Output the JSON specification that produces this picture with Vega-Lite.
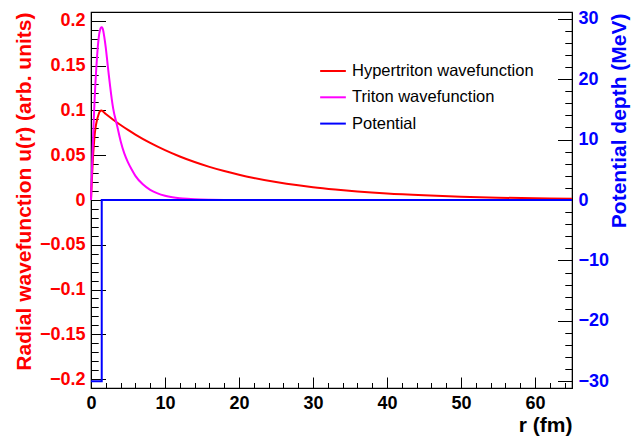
{
  "$schema": "https://vega.github.io/schema/vega-lite/v6.json",
  "width": 481,
  "height": 376,
  "autosize": {"type": "none"},
  "padding": {"left": 91, "top": 12, "right": 66, "bottom": 48},
  "background": "white",
  "config": {
    "view": {"stroke": "black", "strokeWidth": 1.2},
    "font": "Liberation Sans",
    "axis": {"grid": false, "domainColor": "black", "tickColor": "black", "labelFlush": false, "labelOverlap": false, "labelBound": false}
  },
  "datasets": {
    "wave": [
      {"r": 0, "u": 0, "series": "Hypertriton wavefunction"},
      {"r": 0.1, "u": 0.019, "series": "Hypertriton wavefunction"},
      {"r": 0.2, "u": 0.037, "series": "Hypertriton wavefunction"},
      {"r": 0.3, "u": 0.052, "series": "Hypertriton wavefunction"},
      {"r": 0.4, "u": 0.063, "series": "Hypertriton wavefunction"},
      {"r": 0.5, "u": 0.073, "series": "Hypertriton wavefunction"},
      {"r": 0.6, "u": 0.080, "series": "Hypertriton wavefunction"},
      {"r": 0.8, "u": 0.089, "series": "Hypertriton wavefunction"},
      {"r": 1.0, "u": 0.095, "series": "Hypertriton wavefunction"},
      {"r": 1.2, "u": 0.099, "series": "Hypertriton wavefunction"},
      {"r": 1.4, "u": 0.100, "series": "Hypertriton wavefunction"},
      {"r": 2, "u": 0.096, "series": "Hypertriton wavefunction"},
      {"r": 3, "u": 0.0897, "series": "Hypertriton wavefunction"},
      {"r": 4, "u": 0.0838, "series": "Hypertriton wavefunction"},
      {"r": 5, "u": 0.0783, "series": "Hypertriton wavefunction"},
      {"r": 6, "u": 0.0731, "series": "Hypertriton wavefunction"},
      {"r": 8, "u": 0.0638, "series": "Hypertriton wavefunction"},
      {"r": 10, "u": 0.0557, "series": "Hypertriton wavefunction"},
      {"r": 12, "u": 0.0486, "series": "Hypertriton wavefunction"},
      {"r": 14, "u": 0.0424, "series": "Hypertriton wavefunction"},
      {"r": 16, "u": 0.0370, "series": "Hypertriton wavefunction"},
      {"r": 18, "u": 0.0323, "series": "Hypertriton wavefunction"},
      {"r": 20, "u": 0.0282, "series": "Hypertriton wavefunction"},
      {"r": 22, "u": 0.0246, "series": "Hypertriton wavefunction"},
      {"r": 25, "u": 0.0201, "series": "Hypertriton wavefunction"},
      {"r": 28, "u": 0.0164, "series": "Hypertriton wavefunction"},
      {"r": 30, "u": 0.0143, "series": "Hypertriton wavefunction"},
      {"r": 33, "u": 0.0117, "series": "Hypertriton wavefunction"},
      {"r": 36, "u": 0.0095, "series": "Hypertriton wavefunction"},
      {"r": 40, "u": 0.0072, "series": "Hypertriton wavefunction"},
      {"r": 45, "u": 0.0052, "series": "Hypertriton wavefunction"},
      {"r": 50, "u": 0.0037, "series": "Hypertriton wavefunction"},
      {"r": 55, "u": 0.0026, "series": "Hypertriton wavefunction"},
      {"r": 60, "u": 0.0019, "series": "Hypertriton wavefunction"},
      {"r": 65, "u": 0.0013, "series": "Hypertriton wavefunction"},
      {"r": 0, "u": 0, "series": "Triton wavefunction"},
      {"r": 0.1, "u": 0.026, "series": "Triton wavefunction"},
      {"r": 0.2, "u": 0.051, "series": "Triton wavefunction"},
      {"r": 0.3, "u": 0.074, "series": "Triton wavefunction"},
      {"r": 0.4, "u": 0.095, "series": "Triton wavefunction"},
      {"r": 0.5, "u": 0.114, "series": "Triton wavefunction"},
      {"r": 0.6, "u": 0.131, "series": "Triton wavefunction"},
      {"r": 0.7, "u": 0.145, "series": "Triton wavefunction"},
      {"r": 0.8, "u": 0.158, "series": "Triton wavefunction"},
      {"r": 0.9, "u": 0.169, "series": "Triton wavefunction"},
      {"r": 1.0, "u": 0.178, "series": "Triton wavefunction"},
      {"r": 1.1, "u": 0.185, "series": "Triton wavefunction"},
      {"r": 1.2, "u": 0.189, "series": "Triton wavefunction"},
      {"r": 1.3, "u": 0.192, "series": "Triton wavefunction"},
      {"r": 1.4, "u": 0.193, "series": "Triton wavefunction"},
      {"r": 1.5, "u": 0.193, "series": "Triton wavefunction"},
      {"r": 1.6, "u": 0.191, "series": "Triton wavefunction"},
      {"r": 1.7, "u": 0.187, "series": "Triton wavefunction"},
      {"r": 1.8, "u": 0.182, "series": "Triton wavefunction"},
      {"r": 2.0, "u": 0.170, "series": "Triton wavefunction"},
      {"r": 2.2, "u": 0.155, "series": "Triton wavefunction"},
      {"r": 2.4, "u": 0.140, "series": "Triton wavefunction"},
      {"r": 2.6, "u": 0.126, "series": "Triton wavefunction"},
      {"r": 2.8, "u": 0.113, "series": "Triton wavefunction"},
      {"r": 3.0, "u": 0.102, "series": "Triton wavefunction"},
      {"r": 3.5, "u": 0.084, "series": "Triton wavefunction"},
      {"r": 4.0, "u": 0.066, "series": "Triton wavefunction"},
      {"r": 4.5, "u": 0.052, "series": "Triton wavefunction"},
      {"r": 5.0, "u": 0.042, "series": "Triton wavefunction"},
      {"r": 5.5, "u": 0.034, "series": "Triton wavefunction"},
      {"r": 6.0, "u": 0.027, "series": "Triton wavefunction"},
      {"r": 7.0, "u": 0.0175, "series": "Triton wavefunction"},
      {"r": 8.0, "u": 0.0114, "series": "Triton wavefunction"},
      {"r": 9.0, "u": 0.0074, "series": "Triton wavefunction"},
      {"r": 10, "u": 0.0048, "series": "Triton wavefunction"},
      {"r": 11, "u": 0.0031, "series": "Triton wavefunction"},
      {"r": 12, "u": 0.0020, "series": "Triton wavefunction"},
      {"r": 13, "u": 0.0013, "series": "Triton wavefunction"},
      {"r": 14, "u": 0.0008, "series": "Triton wavefunction"},
      {"r": 16, "u": 0.0003, "series": "Triton wavefunction"},
      {"r": 18, "u": 0.0001, "series": "Triton wavefunction"},
      {"r": 20, "u": 0, "series": "Triton wavefunction"},
      {"r": 65, "u": 0, "series": "Triton wavefunction"}
    ],
    "potential": [
      {"r": 0, "V": -30, "i": 0, "series": "Potential"},
      {"r": 1.45, "V": -30, "i": 1, "series": "Potential"},
      {"r": 1.45, "V": 0, "i": 2, "series": "Potential"},
      {"r": 65, "V": 0, "i": 3, "series": "Potential"}
    ]
  },
  "encoding": {
    "x": {
      "field": "r", "type": "quantitative",
      "scale": {"domain": [0, 65], "nice": false, "zero": false},
      "axis": {
        "values": [0,2,4,6,8,10,12,14,16,18,20,22,24,26,28,30,32,34,36,38,40,42,44,46,48,50,52,54,56,58,60,62,64],
        "format": "d",
        "labelExpr": "datum.value % 10 == 0 ? datum.label : ''",
        "tickSize": {"condition": {"test": "datum.value % 10 == 0", "value": -11}, "value": -5.5},
        "labelFont": "Liberation Sans", "labelFontWeight": "bold", "labelFontSize": 18, "labelColor": "black",
        "labelBaseline": "alphabetic", "labelPadding": 31.5,
        "title": "r (fm)", "titleFont": "Liberation Sans", "titleFontWeight": "bold", "titleFontSize": 21, "titleColor": "black",
        "titleX": 481, "titleY": 43, "titleAlign": "right", "titleBaseline": "alphabetic", "titleAngle": 0
      }
    },
    "color": {
      "field": "series", "type": "nominal",
      "scale": {"domain": ["Hypertriton wavefunction", "Triton wavefunction", "Potential"], "range": ["#ff0000", "#ff00ff", "#0000ff"]},
      "legend": {"orient": "none", "legendX": 228, "legendY": 45, "title": null, "direction": "vertical", "symbolType": "stroke", "symbolSize": 660, "symbolStrokeWidth": 2, "labelFont": "Liberation Sans", "labelFontSize": 16.5, "labelColor": "black", "labelOffset": 5, "labelLimit": 0, "rowPadding": 3.3, "padding": 0}
    }
  },
  "layer": [
    {
      "data": {"name": "wave"},
      "mark": {"type": "line", "strokeWidth": 2, "interpolate": "monotone"},
      "encoding": {
        "y": {
          "field": "u", "type": "quantitative",
          "scale": {"domain": [-0.21, 0.21], "nice": false, "zero": false},
          "axis": {
            "orient": "left",
            "values": [-0.2,-0.19,-0.18,-0.17,-0.16,-0.15,-0.14,-0.13,-0.12,-0.11,-0.1,-0.09,-0.08,-0.07,-0.06,-0.05,-0.04,-0.03,-0.02,-0.01,0,0.01,0.02,0.03,0.04,0.05,0.06,0.07,0.08,0.09,0.1,0.11,0.12,0.13,0.14,0.15,0.16,0.17,0.18,0.19,0.2],
            "format": ".2~f",
            "labelExpr": "abs(round(datum.value*100)) % 5 == 0 ? datum.label : ''",
            "tickSize": {"condition": {"test": "abs(round(datum.value*100)) % 5 == 0", "value": -14.5}, "value": -7.2},
            "labelFont": "Liberation Sans", "labelFontWeight": "bold", "labelFontSize": 18, "labelColor": "#ff0000",
            "labelPadding": 20.5,
            "title": "Radial wavefunction u(r) (arb. units)", "titleFont": "Liberation Sans", "titleFontWeight": "bold", "titleFontSize": 21, "titleColor": "#ff0000",
            "titleX": -60.7, "titleY": 0, "titleAngle": 270, "titleAlign": "right", "titleBaseline": "alphabetic"
          }
        }
      }
    },
    {
      "data": {"name": "potential"},
      "mark": {"type": "line", "strokeWidth": 2},
      "encoding": {
        "y": {
          "field": "V", "type": "quantitative",
          "scale": {"domain": [-31.1, 31.1], "nice": false, "zero": false},
          "axis": {
            "orient": "right",
            "values": [-30,-28,-26,-24,-22,-20,-18,-16,-14,-12,-10,-8,-6,-4,-2,0,2,4,6,8,10,12,14,16,18,20,22,24,26,28,30],
            "format": "d",
            "labelExpr": "datum.value % 10 == 0 ? datum.label : ''",
            "tickSize": {"condition": {"test": "datum.value % 10 == 0", "value": -14.5}, "value": -7.2},
            "labelFont": "Liberation Sans", "labelFontWeight": "bold", "labelFontSize": 18, "labelColor": "#0000ff",
            "labelPadding": 20.5,
            "title": "Potential depth (MeV)", "titleFont": "Liberation Sans", "titleFontWeight": "bold", "titleFontSize": 21, "titleColor": "#0000ff",
            "titleX": 53.3, "titleY": 1, "titleAngle": 270, "titleAlign": "right", "titleBaseline": "alphabetic"
          }
        },
        "order": {"field": "i", "type": "quantitative"}
      }
    }
  ],
  "resolve": {"scale": {"y": "independent"}}
}
